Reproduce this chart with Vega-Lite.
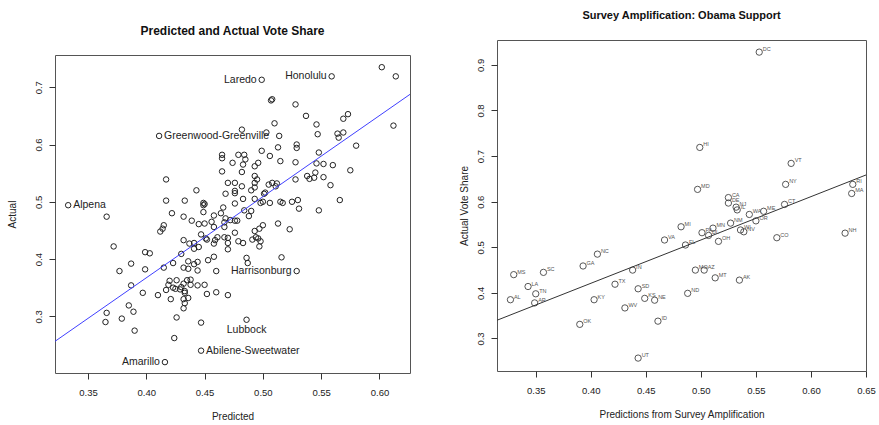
{
  "$schema": "https://vega.github.io/schema/vega-lite/v6.json",
  "background": "white",
  "padding": {"left": 6, "top": 9, "right": 0, "bottom": 0},
  "config": {
    "view": {"stroke": "#555", "strokeWidth": 1},
    "font": "Liberation Sans, Arial, sans-serif",
    "axis": {"domain": false, "grid": false, "tickColor": "#333", "tickSize": 6, "labelFont": "Liberation Sans, Arial, sans-serif", "labelFontSize": 9.5, "labelColor": "#222", "labelFlush": false, "labelPadding": 8, "titleFont": "Liberation Sans, Arial, sans-serif", "titleFontSize": 10, "titleFontWeight": "normal", "titleColor": "#222", "titlePadding": 15},
    "axisY": {"labelAngle": 270, "labelAlign": "center", "labelBaseline": "bottom", "labelPadding": 6, "titlePadding": 16},
    "title": {"font": "Liberation Sans, Arial, sans-serif", "fontWeight": "bold", "color": "#111", "anchor": "middle"}
  },
  "datasets": {
    "left": [
      {"area": "Laredo", "predicted": 0.499, "actual": 0.713},
      {"area": "Honolulu", "predicted": 0.559, "actual": 0.719},
      {"predicted": 0.602, "actual": 0.735},
      {"predicted": 0.614, "actual": 0.719},
      {"predicted": 0.507, "actual": 0.677},
      {"predicted": 0.508, "actual": 0.679},
      {"predicted": 0.528, "actual": 0.670},
      {"predicted": 0.537, "actual": 0.650},
      {"predicted": 0.546, "actual": 0.635},
      {"predicted": 0.510, "actual": 0.637},
      {"predicted": 0.482, "actual": 0.626},
      {"predicted": 0.503, "actual": 0.621},
      {"predicted": 0.514, "actual": 0.615},
      {"predicted": 0.547, "actual": 0.618},
      {"predicted": 0.569, "actual": 0.645},
      {"predicted": 0.573, "actual": 0.653},
      {"predicted": 0.564, "actual": 0.619},
      {"predicted": 0.565, "actual": 0.612},
      {"predicted": 0.569, "actual": 0.621},
      {"predicted": 0.612, "actual": 0.633},
      {"area": "Greenwood-Greenville", "predicted": 0.411, "actual": 0.615},
      {"predicted": 0.529, "actual": 0.600},
      {"predicted": 0.529, "actual": 0.594},
      {"predicted": 0.513, "actual": 0.595},
      {"predicted": 0.499, "actual": 0.589},
      {"predicted": 0.479, "actual": 0.582},
      {"predicted": 0.484, "actual": 0.582},
      {"predicted": 0.485, "actual": 0.574},
      {"predicted": 0.483, "actual": 0.565},
      {"predicted": 0.482, "actual": 0.552},
      {"predicted": 0.474, "actual": 0.568},
      {"predicted": 0.506, "actual": 0.580},
      {"predicted": 0.515, "actual": 0.571},
      {"predicted": 0.496, "actual": 0.568},
      {"predicted": 0.493, "actual": 0.562},
      {"predicted": 0.528, "actual": 0.569},
      {"predicted": 0.548, "actual": 0.586},
      {"predicted": 0.546, "actual": 0.567},
      {"predicted": 0.552, "actual": 0.566},
      {"predicted": 0.560, "actual": 0.564},
      {"predicted": 0.580, "actual": 0.598},
      {"predicted": 0.575, "actual": 0.555},
      {"predicted": 0.465, "actual": 0.582},
      {"predicted": 0.465, "actual": 0.576},
      {"predicted": 0.465, "actual": 0.553},
      {"predicted": 0.417, "actual": 0.539},
      {"predicted": 0.538, "actual": 0.545},
      {"predicted": 0.540, "actual": 0.540},
      {"predicted": 0.544, "actual": 0.542},
      {"predicted": 0.545, "actual": 0.551},
      {"predicted": 0.552, "actual": 0.543},
      {"predicted": 0.558, "actual": 0.529},
      {"predicted": 0.528, "actual": 0.539},
      {"predicted": 0.493, "actual": 0.545},
      {"predicted": 0.495, "actual": 0.539},
      {"predicted": 0.493, "actual": 0.533},
      {"predicted": 0.476, "actual": 0.533},
      {"predicted": 0.482, "actual": 0.527},
      {"predicted": 0.476, "actual": 0.519},
      {"predicted": 0.476, "actual": 0.515},
      {"predicted": 0.470, "actual": 0.533},
      {"predicted": 0.490, "actual": 0.520},
      {"predicted": 0.493, "actual": 0.525},
      {"predicted": 0.505, "actual": 0.530},
      {"predicted": 0.508, "actual": 0.533},
      {"predicted": 0.512, "actual": 0.532},
      {"predicted": 0.511, "actual": 0.527},
      {"predicted": 0.501, "actual": 0.514},
      {"predicted": 0.502, "actual": 0.516},
      {"predicted": 0.443, "actual": 0.520},
      {"predicted": 0.468, "actual": 0.514},
      {"predicted": 0.417, "actual": 0.502},
      {"predicted": 0.476, "actual": 0.497},
      {"predicted": 0.483, "actual": 0.505},
      {"predicted": 0.493, "actual": 0.505},
      {"predicted": 0.498, "actual": 0.498},
      {"predicted": 0.500, "actual": 0.500},
      {"predicted": 0.506, "actual": 0.498},
      {"predicted": 0.515, "actual": 0.500},
      {"predicted": 0.517, "actual": 0.498},
      {"predicted": 0.525, "actual": 0.500},
      {"predicted": 0.530, "actual": 0.503},
      {"predicted": 0.531, "actual": 0.488},
      {"predicted": 0.548, "actual": 0.485},
      {"predicted": 0.566, "actual": 0.503},
      {"predicted": 0.433, "actual": 0.502},
      {"predicted": 0.449, "actual": 0.498},
      {"predicted": 0.450, "actual": 0.496},
      {"predicted": 0.449, "actual": 0.494},
      {"predicted": 0.466, "actual": 0.490},
      {"area": "Alpena", "predicted": 0.333, "actual": 0.494},
      {"predicted": 0.449, "actual": 0.482},
      {"predicted": 0.484, "actual": 0.485},
      {"predicted": 0.490, "actual": 0.484},
      {"predicted": 0.488, "actual": 0.475},
      {"predicted": 0.422, "actual": 0.480},
      {"predicted": 0.464, "actual": 0.480},
      {"predicted": 0.366, "actual": 0.474},
      {"predicted": 0.432, "actual": 0.474},
      {"predicted": 0.439, "actual": 0.467},
      {"predicted": 0.445, "actual": 0.461},
      {"predicted": 0.450, "actual": 0.462},
      {"predicted": 0.456, "actual": 0.465},
      {"predicted": 0.458, "actual": 0.476},
      {"predicted": 0.415, "actual": 0.459},
      {"predicted": 0.412, "actual": 0.448},
      {"predicted": 0.468, "actual": 0.471},
      {"predicted": 0.472, "actual": 0.468},
      {"predicted": 0.476, "actual": 0.467},
      {"predicted": 0.478, "actual": 0.467},
      {"predicted": 0.447, "actual": 0.443},
      {"predicted": 0.451, "actual": 0.436},
      {"predicted": 0.452, "actual": 0.434},
      {"predicted": 0.432, "actual": 0.433},
      {"predicted": 0.437, "actual": 0.427},
      {"predicted": 0.441, "actual": 0.428},
      {"predicted": 0.441, "actual": 0.418},
      {"predicted": 0.445, "actual": 0.421},
      {"predicted": 0.458, "actual": 0.427},
      {"predicted": 0.459, "actual": 0.433},
      {"predicted": 0.461, "actual": 0.438},
      {"predicted": 0.467, "actual": 0.438},
      {"predicted": 0.470, "actual": 0.437},
      {"predicted": 0.470, "actual": 0.428},
      {"predicted": 0.470, "actual": 0.417},
      {"predicted": 0.476, "actual": 0.446},
      {"predicted": 0.479, "actual": 0.431},
      {"predicted": 0.483, "actual": 0.428},
      {"predicted": 0.491, "actual": 0.434},
      {"predicted": 0.494, "actual": 0.438},
      {"predicted": 0.496, "actual": 0.436},
      {"predicted": 0.498, "actual": 0.431},
      {"predicted": 0.497, "actual": 0.422},
      {"predicted": 0.493, "actual": 0.449},
      {"predicted": 0.497, "actual": 0.453},
      {"predicted": 0.500, "actual": 0.459},
      {"predicted": 0.513, "actual": 0.462},
      {"predicted": 0.523, "actual": 0.452},
      {"predicted": 0.372, "actual": 0.422},
      {"predicted": 0.399, "actual": 0.412},
      {"predicted": 0.403, "actual": 0.410},
      {"predicted": 0.430, "actual": 0.409},
      {"predicted": 0.414, "actual": 0.453},
      {"predicted": 0.458, "actual": 0.456},
      {"predicted": 0.467, "actual": 0.464},
      {"predicted": 0.467, "actual": 0.456},
      {"predicted": 0.377, "actual": 0.379},
      {"predicted": 0.387, "actual": 0.392},
      {"predicted": 0.387, "actual": 0.354},
      {"predicted": 0.399, "actual": 0.382},
      {"predicted": 0.415, "actual": 0.385},
      {"predicted": 0.423, "actual": 0.393},
      {"predicted": 0.432, "actual": 0.385},
      {"predicted": 0.436, "actual": 0.396},
      {"predicted": 0.436, "actual": 0.383},
      {"predicted": 0.441, "actual": 0.391},
      {"predicted": 0.444, "actual": 0.395},
      {"predicted": 0.444, "actual": 0.380},
      {"predicted": 0.453, "actual": 0.398},
      {"predicted": 0.458, "actual": 0.404},
      {"predicted": 0.460, "actual": 0.379},
      {"predicted": 0.486, "actual": 0.402},
      {"predicted": 0.487, "actual": 0.393},
      {"predicted": 0.516, "actual": 0.403},
      {"area": "Harrisonburg", "predicted": 0.529, "actual": 0.379},
      {"predicted": 0.397, "actual": 0.341},
      {"predicted": 0.420, "actual": 0.362},
      {"predicted": 0.426, "actual": 0.363},
      {"predicted": 0.419, "actual": 0.355},
      {"predicted": 0.417, "actual": 0.346},
      {"predicted": 0.423, "actual": 0.350},
      {"predicted": 0.425, "actual": 0.348},
      {"predicted": 0.429, "actual": 0.347},
      {"predicted": 0.430, "actual": 0.351},
      {"predicted": 0.432, "actual": 0.357},
      {"predicted": 0.435, "actual": 0.363},
      {"predicted": 0.438, "actual": 0.364},
      {"predicted": 0.438, "actual": 0.355},
      {"predicted": 0.433, "actual": 0.344},
      {"predicted": 0.433, "actual": 0.341},
      {"predicted": 0.444, "actual": 0.354},
      {"predicted": 0.450, "actual": 0.355},
      {"predicted": 0.452, "actual": 0.339},
      {"predicted": 0.460, "actual": 0.342},
      {"predicted": 0.470, "actual": 0.337},
      {"predicted": 0.410, "actual": 0.337},
      {"predicted": 0.421, "actual": 0.330},
      {"predicted": 0.432, "actual": 0.330},
      {"predicted": 0.436, "actual": 0.332},
      {"predicted": 0.433, "actual": 0.323},
      {"predicted": 0.432, "actual": 0.314},
      {"predicted": 0.366, "actual": 0.306},
      {"predicted": 0.365, "actual": 0.290},
      {"predicted": 0.379, "actual": 0.296},
      {"predicted": 0.385, "actual": 0.319},
      {"predicted": 0.389, "actual": 0.308},
      {"predicted": 0.390, "actual": 0.275},
      {"predicted": 0.426, "actual": 0.298},
      {"predicted": 0.447, "actual": 0.289},
      {"predicted": 0.424, "actual": 0.262},
      {"area": "Abilene-Sweetwater", "predicted": 0.447, "actual": 0.240},
      {"area": "Amarillo", "predicted": 0.416, "actual": 0.220},
      {"area": "Lubbock", "predicted": 0.486, "actual": 0.294}
    ],
    "leftFit": [
      {"predicted": 0.3217, "actual": 0.2563},
      {"predicted": 0.6262, "actual": 0.6876}
    ],
    "states": [
      {"state": "DC", "predicted": 0.553, "actual": 0.928},
      {"state": "HI", "predicted": 0.499, "actual": 0.719},
      {"state": "VT", "predicted": 0.582, "actual": 0.684},
      {"state": "NY", "predicted": 0.577, "actual": 0.638},
      {"state": "MD", "predicted": 0.497, "actual": 0.627},
      {"state": "RI", "predicted": 0.638, "actual": 0.638},
      {"state": "MA", "predicted": 0.637, "actual": 0.618},
      {"state": "CA", "predicted": 0.525, "actual": 0.609},
      {"state": "DE", "predicted": 0.525, "actual": 0.597},
      {"state": "NJ", "predicted": 0.532, "actual": 0.588},
      {"state": "IL", "predicted": 0.533, "actual": 0.582},
      {"state": "CT", "predicted": 0.576, "actual": 0.594},
      {"state": "ME", "predicted": 0.557, "actual": 0.579},
      {"state": "WA", "predicted": 0.544, "actual": 0.572},
      {"state": "OR", "predicted": 0.550, "actual": 0.558},
      {"state": "NM", "predicted": 0.527, "actual": 0.553},
      {"state": "MN", "predicted": 0.511, "actual": 0.542},
      {"state": "MI", "predicted": 0.482, "actual": 0.545},
      {"state": "VA", "predicted": 0.467, "actual": 0.516},
      {"state": "PA", "predicted": 0.501, "actual": 0.532},
      {"state": "DL", "predicted": 0.507, "actual": 0.526},
      {"state": "OH", "predicted": 0.516, "actual": 0.513},
      {"state": "WI", "predicted": 0.536, "actual": 0.538},
      {"state": "NV", "predicted": 0.539, "actual": 0.534},
      {"state": "CO", "predicted": 0.569, "actual": 0.521},
      {"state": "FL", "predicted": 0.486, "actual": 0.505},
      {"state": "NH", "predicted": 0.631, "actual": 0.531},
      {"state": "NC", "predicted": 0.406, "actual": 0.485},
      {"state": "GA", "predicted": 0.393, "actual": 0.459},
      {"state": "MS", "predicted": 0.330, "actual": 0.440},
      {"state": "SC", "predicted": 0.357, "actual": 0.445},
      {"state": "LA", "predicted": 0.343, "actual": 0.414},
      {"state": "TN", "predicted": 0.350, "actual": 0.398},
      {"state": "AL", "predicted": 0.327, "actual": 0.385},
      {"state": "AR", "predicted": 0.349, "actual": 0.378},
      {"state": "KY", "predicted": 0.403, "actual": 0.385},
      {"state": "TX", "predicted": 0.422, "actual": 0.419},
      {"state": "WV", "predicted": 0.431, "actual": 0.367},
      {"state": "OK", "predicted": 0.390, "actual": 0.331},
      {"state": "IN", "predicted": 0.438, "actual": 0.450},
      {"state": "SD", "predicted": 0.443, "actual": 0.409},
      {"state": "KS", "predicted": 0.449, "actual": 0.388},
      {"state": "NE", "predicted": 0.458, "actual": 0.384},
      {"state": "ID", "predicted": 0.461, "actual": 0.338},
      {"state": "UT", "predicted": 0.443, "actual": 0.257},
      {"state": "MO", "predicted": 0.495, "actual": 0.450},
      {"state": "AZ", "predicted": 0.503, "actual": 0.450},
      {"state": "MT", "predicted": 0.513, "actual": 0.433},
      {"state": "AK", "predicted": 0.535, "actual": 0.428},
      {"state": "ND", "predicted": 0.488, "actual": 0.399}
    ],
    "rightFit": [
      {"predicted": 0.3148, "actual": 0.340},
      {"predicted": 0.65, "actual": 0.6586}
    ]
  },
  "hconcat": [
    {
      "spacing": 0,
      "vconcat": [
        {
          "width": 355,
          "height": 14,
          "title": {"text": "Predicted and Actual Vote Share", "offset": 2, "fontSize": 12},
          "view": {"stroke": null},
          "data": {"values": []},
          "mark": "point"
        },
        {
          "width": 355,
          "height": 318,
          "data": {"name": "left"},
          "encoding": {
            "x": {"field": "predicted", "type": "quantitative", "scale": {"domain": [0.3217, 0.6262], "nice": false, "zero": false}, "axis": {"values": [0.35, 0.4, 0.45, 0.5, 0.55, 0.6], "format": ".2f", "title": "Predicted"}},
            "y": {"field": "actual", "type": "quantitative", "scale": {"domain": [0.201, 0.7563], "nice": false, "zero": false}, "axis": {"values": [0.2, 0.3, 0.4, 0.5, 0.6, 0.7], "format": ".1f", "title": "Actual"}}
          },
          "layer": [
            {"mark": {"type": "point", "shape": "circle", "size": 30, "filled": false, "stroke": "#222", "strokeWidth": 1, "opacity": 1}},
            {"data": {"name": "leftFit"}, "mark": {"type": "line", "color": "#4040ff", "strokeWidth": 1, "clip": true}},
            {"transform": [{"filter": {"field": "area", "oneOf": ["Greenwood-Greenville", "Alpena", "Abilene-Sweetwater"]}}],
             "mark": {"type": "text", "align": "left", "baseline": "middle", "dx": 5, "font": "Liberation Sans, Arial, sans-serif", "fontSize": 10.5, "color": "#222"},
             "encoding": {"text": {"field": "area"}}},
            {"transform": [{"filter": {"field": "area", "oneOf": ["Laredo", "Honolulu", "Harrisonburg", "Amarillo"]}}],
             "mark": {"type": "text", "align": "right", "baseline": "middle", "dx": -5, "font": "Liberation Sans, Arial, sans-serif", "fontSize": 10.5, "color": "#222"},
             "encoding": {"text": {"field": "area"}}},
            {"transform": [{"filter": {"field": "area", "equal": "Lubbock"}}],
             "mark": {"type": "text", "align": "center", "baseline": "top", "dy": 5, "font": "Liberation Sans, Arial, sans-serif", "fontSize": 10.5, "color": "#222"},
             "encoding": {"text": {"field": "area"}}}
          ]
        }
      ]
    },
    {
      "width": 369,
      "height": 331,
      "title": {"text": "Survey Amplification: Obama Support", "offset": 19, "fontSize": 11},
      "data": {"name": "states"},
      "encoding": {
        "x": {"field": "predicted", "type": "quantitative", "scale": {"domain": [0.3148, 0.65], "nice": false, "zero": false}, "axis": {"values": [0.35, 0.4, 0.45, 0.5, 0.55, 0.6, 0.65], "format": ".2f", "title": "Predictions from Survey Amplification"}},
        "y": {"field": "actual", "type": "quantitative", "scale": {"domain": [0.2287, 0.9546], "nice": false, "zero": false}, "axis": {"values": [0.3, 0.4, 0.5, 0.6, 0.7, 0.8, 0.9], "format": ".1f", "title": "Actual Vote Share", "titlePadding": 6}}
      },
      "layer": [
        {"mark": {"type": "point", "shape": "circle", "size": 40, "filled": false, "stroke": "#444", "strokeWidth": 0.9, "opacity": 1}},
        {"data": {"name": "rightFit"}, "mark": {"type": "line", "color": "#333", "strokeWidth": 1, "clip": true}},
        {"mark": {"type": "text", "align": "left", "baseline": "middle", "dx": 3.5, "dy": -3, "font": "Liberation Sans, Arial, sans-serif", "fontSize": 5.5, "color": "#555"},
         "encoding": {"text": {"field": "state"}}}
      ]
    }
  ],
  "spacing": 47
}
